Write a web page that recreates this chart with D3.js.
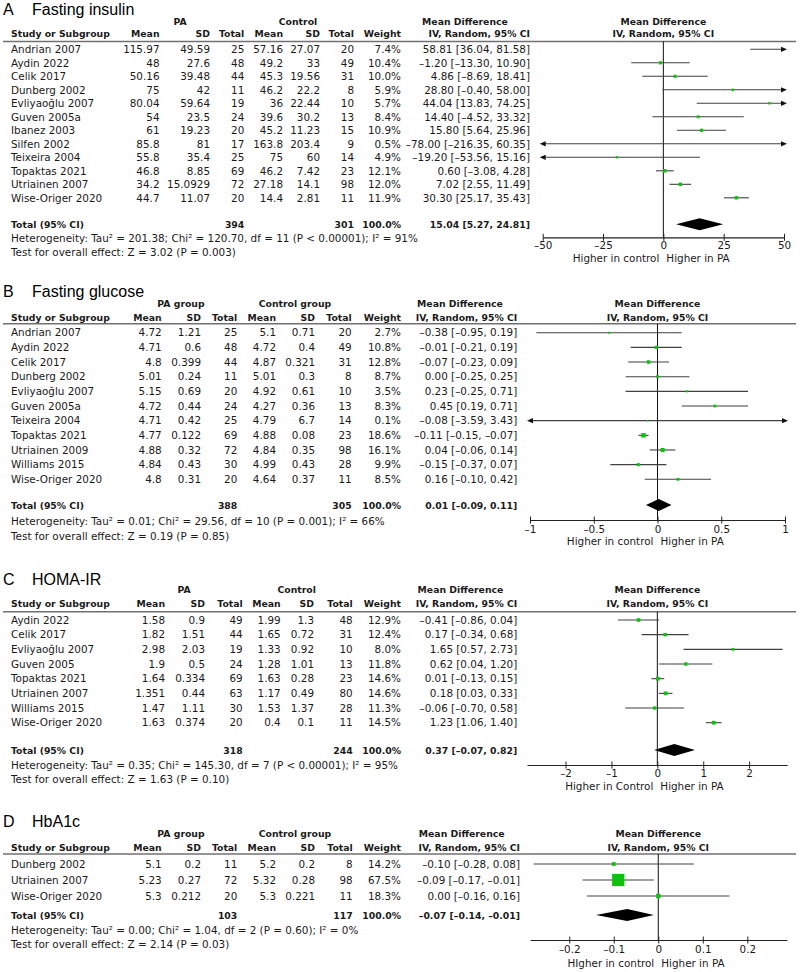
<!DOCTYPE html>
<html><head><meta charset="utf-8">
<script src="https://cdn.jsdelivr.net/npm/d3@7"></script>
<style>
body{margin:0;background:#fff}
svg{display:block}
text{font-family:"DejaVu Sans",sans-serif;font-size:10.4px;fill:#1a1a1a}
text.b{font-weight:bold;font-size:9.3px}
text.ttl{font-family:"Liberation Sans",Arial,sans-serif;font-size:16px;fill:#000}
</style>
</head><body>
<svg id="c" width="800" height="972"></svg>
<script>
// ---------- Panel A: Fasting insulin ----------
const aStudies = ["Andrian 2007","Aydin 2022","Celik 2017","Dunberg 2002","Evliyaoğlu 2007","Guven 2005a","Ibanez 2003","Silfen 2002","Teixeira 2004","Topaktas 2021","Utriainen 2007","Wise-Origer 2020"];
const aPaMean = [115.97,48,50.16,75,80.04,54,61,85.8,55.8,46.8,34.2,44.7];
const aPaSD   = [49.59,27.6,39.48,42,59.64,23.5,19.23,81,35.4,8.85,15.0929,11.07];
const aPaN    = [25,48,44,11,19,24,20,17,25,69,72,20];
const aCtMean = [57.16,49.2,45.3,46.2,36,39.6,45.2,163.8,75,46.2,27.18,14.4];
const aCtSD   = [27.07,33,19.56,22.2,22.44,30.2,11.23,203.4,60,7.42,14.1,2.81];
const aCtN    = [20,49,31,8,10,13,15,9,14,23,98,11];
const aWeight = [7.4,10.4,10.0,5.9,5.7,8.4,10.9,0.5,4.9,12.1,12.0,11.9];
const aMD     = [58.81,-1.20,4.86,28.80,44.04,14.40,15.80,-78.00,-19.20,0.60,7.02,30.30];
const aLo     = [36.04,-13.30,-8.69,-0.40,13.83,-4.52,5.64,-216.35,-53.56,-3.08,2.55,25.17];
const aHi     = [81.58,10.90,18.41,58.00,74.25,33.32,25.96,60.35,15.16,4.28,11.49,35.43];
const aTotal  = {paN:394, ctN:301, md:15.04, lo:5.27, hi:24.81};
const aHet    = "Heterogeneity: Tau² = 201.38; Chi² = 120.70, df = 11 (P < 0.00001); I² = 91%";
const aTest   = "Test for overall effect: Z = 3.02 (P = 0.003)";
const aTicks  = [-50,-25,0,25,50];

// ---------- Panel B: Fasting glucose ----------
const bStudies = ["Andrian 2007","Aydin 2022","Celik 2017","Dunberg 2002","Evliyaoğlu 2007","Guven 2005a","Teixeira 2004","Topaktas 2021","Utriainen 2009","Williams 2015","Wise-Origer 2020"];
const bPaMean = [4.72,4.71,4.8,5.01,5.15,4.72,4.71,4.77,4.88,4.84,4.8];
const bPaSD   = [1.21,0.6,0.399,0.24,0.69,0.44,0.42,0.122,0.32,0.43,0.31];
const bPaN    = [25,48,44,11,20,24,25,69,72,30,20];
const bCtMean = [5.1,4.72,4.87,5.01,4.92,4.27,4.79,4.88,4.84,4.99,4.64];
const bCtSD   = [0.71,0.4,0.321,0.3,0.61,0.36,6.7,0.08,0.35,0.43,0.37];
const bCtN    = [20,49,31,8,10,13,14,23,98,28,11];
const bWeight = [2.7,10.8,12.8,8.7,3.5,8.3,0.1,18.6,16.1,9.9,8.5];
const bMD     = [-0.38,-0.01,-0.07,0.00,0.23,0.45,-0.08,-0.11,0.04,-0.15,0.16];
const bLo     = [-0.95,-0.21,-0.23,-0.25,-0.25,0.19,-3.59,-0.15,-0.06,-0.37,-0.10];
const bHi     = [0.19,0.19,0.09,0.25,0.71,0.71,3.43,-0.07,0.14,0.07,0.42];
const bTotal  = {paN:388, ctN:305, md:0.01, lo:-0.09, hi:0.11};
const bHet    = "Heterogeneity: Tau² = 0.01; Chi² = 29.56, df = 10 (P = 0.001); I² = 66%";
const bTest   = "Test for overall effect: Z = 0.19 (P = 0.85)";
const bTicks  = [-1,-0.5,0,0.5,1];

// ---------- Panel C: HOMA-IR ----------
const cStudies = ["Aydin 2022","Celik 2017","Evliyaoğlu 2007","Guven 2005","Topaktas 2021","Utriainen 2007","Williams 2015","Wise-Origer 2020"];
const cPaMean = [1.58,1.82,2.98,1.9,1.64,1.351,1.47,1.63];
const cPaSD   = [0.9,1.51,2.03,0.5,0.334,0.44,1.11,0.374];
const cPaN    = [49,44,19,24,69,63,30,20];
const cCtMean = [1.99,1.65,1.33,1.28,1.63,1.17,1.53,0.4];
const cCtSD   = [1.3,0.72,0.92,1.01,0.28,0.49,1.37,0.1];
const cCtN    = [48,31,10,13,23,80,28,11];
const cWeight = [12.9,12.4,8.0,11.8,14.6,14.6,11.3,14.5];
const cMD     = [-0.41,0.17,1.65,0.62,0.01,0.18,-0.06,1.23];
const cLo     = [-0.86,-0.34,0.57,0.04,-0.13,0.03,-0.70,1.06];
const cHi     = [0.04,0.68,2.73,1.20,0.15,0.33,0.58,1.40];
const cTotal  = {paN:318, ctN:244, md:0.37, lo:-0.07, hi:0.82};
const cHet    = "Heterogeneity: Tau² = 0.35; Chi² = 145.30, df = 7 (P < 0.00001); I² = 95%";
const cTest   = "Test for overall effect: Z = 1.63 (P = 0.10)";
const cTicks  = [-2,-1,0,1,2];

// ---------- Panel D: HbA1c ----------
const dStudies = ["Dunberg 2002","Utriainen 2007","Wise-Origer 2020"];
const dPaMean = [5.1,5.23,5.3];
const dPaSD   = [0.2,0.27,0.212];
const dPaN    = [11,72,20];
const dCtMean = [5.2,5.32,5.3];
const dCtSD   = [0.2,0.28,0.221];
const dCtN    = [8,98,11];
const dWeight = [14.2,67.5,18.3];
const dMD     = [-0.10,-0.09,0.00];
const dLo     = [-0.28,-0.17,-0.16];
const dHi     = [0.08,-0.01,0.16];
const dTotal  = {paN:103, ctN:117, md:-0.07, lo:-0.14, hi:-0.01};
const dHet    = "Heterogeneity: Tau² = 0.00; Chi² = 1.04, df = 2 (P = 0.60); I² = 0%";
const dTest   = "Test for overall effect: Z = 2.14 (P = 0.03)";
const dTicks  = [-0.2,-0.1,0,0.1,0.2];

const svg = d3.select("#c");
const loc = d3.formatLocale({decimal:".",thousands:",",grouping:[3],currency:["$",""],minus:"–"});
const f2 = loc.format(".2f");
const f1 = loc.format(".1f");
const tf = loc.format("");
const sqSize = d3.scaleLinear().domain([0,100]).range([1.5,17.5]);

function rows(st,pm,psd,pn,cm,csd,cn,w,md,lo,hi){
  return st.map((s,i)=>({s,pm:pm[i],psd:psd[i],pn:pn[i],cm:cm[i],csd:csd[i],cn:cn[i],w:w[i],md:md[i],lo:lo[i],hi:hi[i]}));
}

function panel(data,tot,het,test,ticks,L){
  const g = svg.append("g");
  const txt = (x,y,t,anchor,cls)=>g.append("text").attr("x",x).attr("y",y).attr("text-anchor",anchor||"start").attr("class",cls||null).text(t);
  g.append("text").attr("class","ttl").attr("x",3).attr("y",L.titleBase).text(L.letter);
  g.append("text").attr("class","ttl").attr("x",32).attr("y",L.titleBase).text(L.title);
  txt(L.paCx,L.grpBase,L.paLabel,"middle","b");
  txt(L.ctCx,L.grpBase,L.ctLabel,"middle","b");
  const C = L.cols;
  txt(11,L.hdrBase,"Study or Subgroup","start","b");
  [["Mean",C.pm],["SD",C.psd],["Total",C.pt],["Mean",C.cm],["SD",C.csd],["Total",C.ct],["Weight",C.w]]
    .forEach(([t,x])=>txt(x,L.hdrBase,t,"end","b"));
  txt(L.mdCx,L.grpBase,"Mean Difference","middle","b");
  txt(C.md,L.hdrBase,"IV, Random, 95% CI","end","b");
  const x = d3.scaleLinear().domain(L.domain).range(L.range);
  txt(x(0),L.grpBase,"Mean Difference","middle","b");
  txt(x(0),L.hdrBase,"IV, Random, 95% CI","middle","b");
  g.append("line").attr("x1",3).attr("x2",796).attr("y1",L.lineY).attr("y2",L.lineY)
    .attr("stroke","#707070").attr("stroke-width",1.6);
  const y = d3.scaleLinear().domain([0,1]).range([L.rowY0,L.rowY0+L.rowStep]);
  data.forEach((d,i)=>{
    const yc = y(i), yb = yc+3.7;
    txt(11,yb,d.s);
    txt(C.pm,yb,String(d.pm),"end");
    txt(C.psd,yb,String(d.psd),"end");
    txt(C.pt,yb,String(d.pn),"end");
    txt(C.cm,yb,String(d.cm),"end");
    txt(C.csd,yb,String(d.csd),"end");
    txt(C.ct,yb,String(d.cn),"end");
    txt(C.w,yb,f1(d.w)+"%","end");
    txt(C.md,yb,`${f2(d.md)} [${f2(d.lo)}, ${f2(d.hi)}]`,"end");
  });
  const tb = L.totalY+3.5;
  txt(11,tb,"Total (95% CI)","start","b");
  txt(C.pt,tb,String(tot.paN),"end","b");
  txt(C.ct,tb,String(tot.ctN),"end","b");
  txt(C.w,tb,"100.0%","end","b");
  txt(C.md,tb,`${f2(tot.md)} [${f2(tot.lo)}, ${f2(tot.hi)}]`,"end","b");
  txt(11,L.hetY+3.7,het);
  txt(11,L.testY+3.7,test);
  g.append("line").attr("x1",x(0)).attr("x2",x(0)).attr("y1",L.lineY).attr("y2",L.axisY)
    .attr("stroke","#111").attr("stroke-width",1);
  const [d0,d1] = L.domain;
  data.forEach((d,i)=>{
    const yc = y(i);
    const lo = Math.max(d.lo,d0), hi = Math.min(d.hi,d1);
    let x1 = x(lo), x2 = x(hi);
    if(d.lo<d0) x1 = x(d0)+1;
    if(d.hi>d1) x2 = x(d1)-1;
    g.append("line").attr("x1",x1).attr("x2",x2).attr("y1",yc).attr("y2",yc)
      .attr("stroke","#404040").attr("stroke-width",1.1);
    if(d.hi>d1){
      const t = x(d1)+3;
      g.append("path").attr("d",`M${t},${yc}L${t-6},${yc-2.6}L${t-6},${yc+2.6}Z`).attr("fill","#111");
    }
    if(d.lo<d0){
      const t = x(d0)-3;
      g.append("path").attr("d",`M${t},${yc}L${t+6},${yc-2.6}L${t+6},${yc+2.6}Z`).attr("fill","#111");
    }
    if(d.md>=d0 && d.md<=d1){
      const s = sqSize(d.w);
      g.append("rect").attr("x",x(d.md)-s/2).attr("y",yc-s/2).attr("width",s).attr("height",s)
        .attr("fill","#10c010");
    }
  });
  const ty = L.totalY;
  g.append("path").attr("d",`M${x(tot.lo)},${ty}L${x(tot.md)},${ty-6}L${x(tot.hi)},${ty}L${x(tot.md)},${ty+6}Z`)
    .attr("fill","#000");
  const ax = g.append("g").attr("transform",`translate(0,${L.axisY})`)
    .call(d3.axisBottom(x).tickValues(ticks).tickFormat(tf).tickSizeOuter(0).tickSizeInner(3).tickPadding(2));
  ax.select(".domain").attr("stroke","#222").attr("stroke-width",1.2);
  ax.selectAll(".tick line").attr("y1",-3.5).attr("y2",3.5).attr("stroke","#222");
  ax.selectAll(".tick text").attr("y",L.tickBase-L.axisY).attr("dy",null)
    .style("font-family","DejaVu Sans").style("font-size","10.4px").attr("fill","#1a1a1a");
  txt(x(0)-4,L.lblBase,L.lblLeft,"end");
  txt(x(0)+3,L.lblBase,"Higher in PA","start");
}

panel(rows(aStudies,aPaMean,aPaSD,aPaN,aCtMean,aCtSD,aCtN,aWeight,aMD,aLo,aHi),aTotal,aHet,aTest,aTicks,{
  letter:"A",title:"Fasting insulin",titleBase:15,grpBase:25,paLabel:"PA",ctLabel:"Control",paCx:180,ctCx:298,
  hdrBase:37.3,lineY:41.5,cols:{pm:159.5,psd:210,pt:244.3,cm:283,csd:320,ct:354,w:401,md:530},mdCx:465,
  rowY0:49.3,rowStep:13.5,totalY:224.3,hetY:238.3,testY:252.3,
  axisY:237.3,domain:[-50,50],range:[542.7,784],tickBase:249,lblBase:261.5,lblLeft:"Higher in control"});

panel(rows(bStudies,bPaMean,bPaSD,bPaN,bCtMean,bCtSD,bCtN,bWeight,bMD,bLo,bHi),bTotal,bHet,bTest,bTicks,{
  letter:"B",title:"Fasting glucose",titleBase:296.5,grpBase:306.5,paLabel:"PA group",ctLabel:"Control group",paCx:181,ctCx:295,
  hdrBase:320.7,lineY:323.8,cols:{pm:161.7,psd:201,pt:237.3,cm:276,csd:315,ct:351.7,w:401,md:517.3},mdCx:460,
  rowY0:332.7,rowStep:14.66,totalY:505,hetY:521.7,testY:536,
  axisY:520,domain:[-1,1],range:[530,785],tickBase:532.7,lblBase:545,lblLeft:"Higher in control"});

panel(rows(cStudies,cPaMean,cPaSD,cPaN,cCtMean,cCtSD,cCtN,cWeight,cMD,cLo,cHi),cTotal,cHet,cTest,cTicks,{
  letter:"C",title:"HOMA-IR",titleBase:585,grpBase:593.3,paLabel:"PA",ctLabel:"Control",paCx:184,ctCx:296.7,
  hdrBase:607,lineY:611.7,cols:{pm:165,psd:205,pt:242.7,cm:280.7,csd:314,ct:352.7,w:401,md:517.3},mdCx:460.5,
  rowY0:620,rowStep:14.67,totalY:750,hetY:765,testY:779.3,
  axisY:765,domain:[-2.84,2.83],range:[527,787.2],tickBase:777.3,lblBase:790,lblLeft:"Higher in Control"});

panel(rows(dStudies,dPaMean,dPaSD,dPaN,dCtMean,dCtSD,dCtN,dWeight,dMD,dLo,dHi),dTotal,dHet,dTest,dTicks,{
  letter:"D",title:"HbA1c",titleBase:826.7,grpBase:837,paLabel:"PA group",ctLabel:"Control group",paCx:181,ctCx:295,
  hdrBase:850.7,lineY:854,cols:{pm:161.7,psd:201,pt:237.3,cm:276,csd:315,ct:352.7,w:401,md:520},mdCx:461.7,
  rowY0:864,rowStep:16,totalY:915,hetY:930,testY:944.3,
  axisY:940,domain:[-0.288,0.289],range:[530.1,786.9],tickBase:952.7,lblBase:966.7,lblLeft:"HIgher in control"});
</script>
</body></html>
